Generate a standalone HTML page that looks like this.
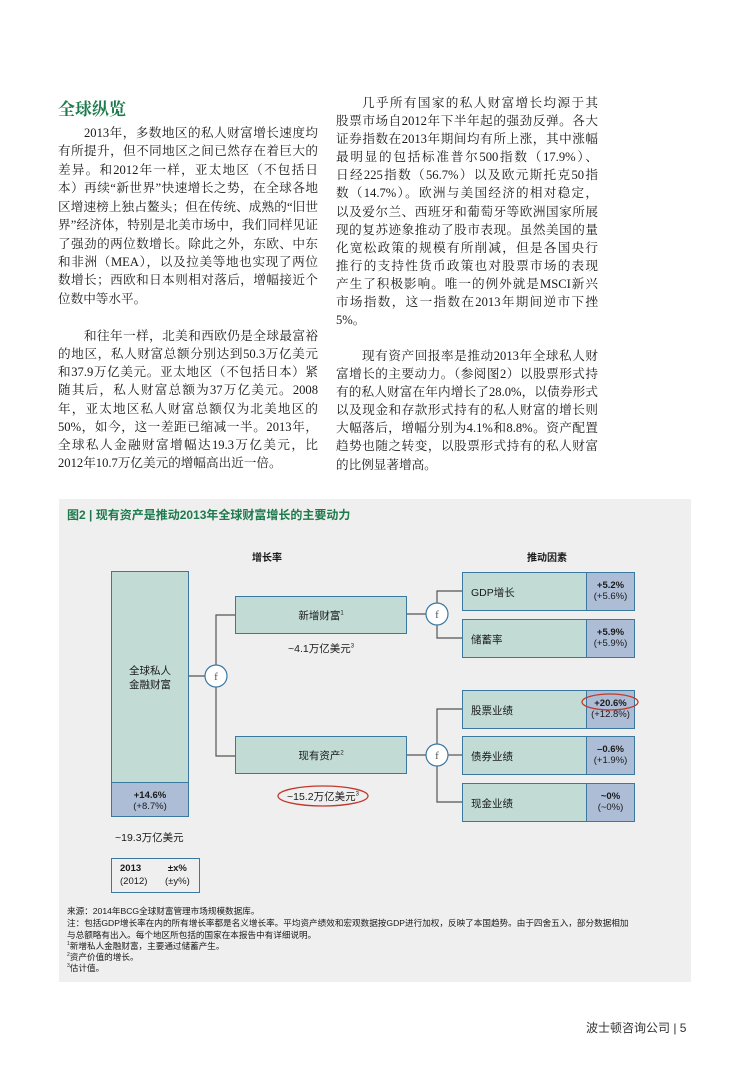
<!DOCTYPE html>
<html><head><meta charset="utf-8"><style>
body{margin:0;width:748px;height:1077px;background:#fff;position:relative;overflow:hidden;font-family:"Liberation Serif","Noto Serif CJK SC",serif;color:#1a1a1a}
.l{position:absolute;font-size:12.6px;height:18px;line-height:18px;white-space:nowrap;text-align:justify;text-align-last:justify}
.ll{text-align-last:left}
.s{font-family:"Liberation Sans","Noto Sans CJK SC",sans-serif}
.a{position:absolute}
.box{position:absolute;background:#c2dcd5;border:1.3px solid #3a78a0;box-sizing:border-box}
.val{position:absolute;background:#adbdd6;border:1.3px solid #3a78a0;box-sizing:border-box;text-align:center;font-family:"Liberation Sans",sans-serif;font-size:9.5px;line-height:11px;padding-top:7px}
.lab{position:absolute;font-family:"Liberation Sans","Noto Sans CJK SC",sans-serif;font-size:10.5px}
.fn{position:absolute;left:67px;font-family:"Liberation Sans","Noto Sans CJK SC",sans-serif;font-size:8.6px;white-space:nowrap}
</style></head><body>
<div class="a" style="left:58px;top:95px;font-size:17px;font-weight:bold;color:#1e7a4c;font-family:'Liberation Serif','Noto Serif CJK SC',serif">全球纵览</div>

<div class="l" style="left:58px;top:124px;width:260px;text-indent:26px">2013年，多数地区的私人财富增长速度均</div>
<div class="l" style="left:58px;top:142px;width:260px">有所提升，但不同地区之间已然存在着巨大的</div>
<div class="l" style="left:58px;top:161px;width:260px">差异。和2012年一样，亚太地区（不包括日</div>
<div class="l" style="left:58px;top:179px;width:260px">本）再续“新世界”快速增长之势，在全球各地</div>
<div class="l" style="left:58px;top:198px;width:260px">区增速榜上独占鳌头；但在传统、成熟的“旧世</div>
<div class="l" style="left:58px;top:216px;width:260px">界”经济体，特别是北美市场中，我们同样见证</div>
<div class="l" style="left:58px;top:235px;width:260px">了强劲的两位数增长。除此之外，东欧、中东</div>
<div class="l" style="left:58px;top:253px;width:260px">和非洲（MEA），以及拉美等地也实现了两位</div>
<div class="l" style="left:58px;top:271px;width:260px">数增长；西欧和日本则相对落后，增幅接近个</div>
<div class="l ll" style="left:58px;top:290px;width:260px">位数中等水平。</div>

<div class="l" style="left:58px;top:327px;width:260px;text-indent:26px">和往年一样，北美和西欧仍是全球最富裕</div>
<div class="l" style="left:58px;top:345px;width:260px">的地区，私人财富总额分别达到50.3万亿美元</div>
<div class="l" style="left:58px;top:363px;width:260px">和37.9万亿美元。亚太地区（不包括日本）紧</div>
<div class="l" style="left:58px;top:381px;width:260px">随其后，私人财富总额为37万亿美元。2008</div>
<div class="l" style="left:58px;top:400px;width:260px">年，亚太地区私人财富总额仅为北美地区的</div>
<div class="l" style="left:58px;top:418px;width:260px">50%，如今，这一差距已缩减一半。2013年，</div>
<div class="l" style="left:58px;top:436px;width:260px">全球私人金融财富增幅达19.3万亿美元，比</div>
<div class="l ll" style="left:58px;top:454px;width:260px">2012年10.7万亿美元的增幅高出近一倍。</div>

<div class="l" style="left:336px;top:94px;width:262px;text-indent:26px">几乎所有国家的私人财富增长均源于其</div>
<div class="l" style="left:336px;top:112px;width:262px">股票市场自2012年下半年起的强劲反弹。各大</div>
<div class="l" style="left:336px;top:130px;width:262px">证券指数在2013年期间均有所上涨，其中涨幅</div>
<div class="l" style="left:336px;top:148px;width:262px">最明显的包括标准普尔500指数（17.9%）、</div>
<div class="l" style="left:336px;top:166px;width:262px">日经225指数（56.7%）以及欧元斯托克50指</div>
<div class="l" style="left:336px;top:184px;width:262px">数（14.7%）。欧洲与美国经济的相对稳定，</div>
<div class="l" style="left:336px;top:203px;width:262px">以及爱尔兰、西班牙和葡萄牙等欧洲国家所展</div>
<div class="l" style="left:336px;top:221px;width:262px">现的复苏迹象推动了股市表现。虽然美国的量</div>
<div class="l" style="left:336px;top:239px;width:262px">化宽松政策的规模有所削减，但是各国央行</div>
<div class="l" style="left:336px;top:257px;width:262px">推行的支持性货币政策也对股票市场的表现</div>
<div class="l" style="left:336px;top:275px;width:262px">产生了积极影响。唯一的例外就是MSCI新兴</div>
<div class="l" style="left:336px;top:293px;width:262px">市场指数，这一指数在2013年期间逆市下挫</div>
<div class="l ll" style="left:336px;top:311px;width:262px">5%。</div>

<div class="l" style="left:336px;top:347px;width:262px;text-indent:26px">现有资产回报率是推动2013年全球私人财</div>
<div class="l" style="left:336px;top:365px;width:262px">富增长的主要动力。（参阅图2）以股票形式持</div>
<div class="l" style="left:336px;top:383px;width:262px">有的私人财富在年内增长了28.0%，以债券形式</div>
<div class="l" style="left:336px;top:401px;width:262px">以及现金和存款形式持有的私人财富的增长则</div>
<div class="l" style="left:336px;top:419px;width:262px">大幅落后，增幅分别为4.1%和8.8%。资产配置</div>
<div class="l" style="left:336px;top:437px;width:262px">趋势也随之转变，以股票形式持有的私人财富</div>
<div class="l ll" style="left:336px;top:456px;width:262px">的比例显著增高。</div>

<!-- figure -->
<div class="a" style="left:59px;top:499px;width:632px;height:483px;background:#efefef"></div>
<div class="a s" style="left:67px;top:506px;font-size:12px;font-weight:bold;color:#1e7a4c">图2 | 现有资产是推动2013年全球财富增长的主要动力</div>
<div class="a s" style="left:252px;top:549px;font-size:10px;font-weight:bold">增长率</div>
<div class="a s" style="left:527px;top:549px;font-size:10px;font-weight:bold">推动因素</div>

<svg class="a" style="left:0;top:0" width="748" height="1077">
<g stroke="#555" stroke-width="1.2" fill="none">
<line x1="188" y1="676" x2="205" y2="676"/>
<polyline points="235,615 216,615 216,665"/>
<polyline points="235,756 216,756 216,687"/>
<line x1="406" y1="614" x2="426" y2="614"/>
<polyline points="462,591 437,591 437,603"/>
<polyline points="462,638 437,638 437,625"/>
<line x1="406" y1="755" x2="426" y2="755"/>
<polyline points="462,709 437,709 437,744"/>
<line x1="448" y1="755" x2="462" y2="755"/>
<polyline points="462,802 437,802 437,766"/>
</g>
<g stroke="#3a78a0" stroke-width="1.2" fill="#fff">
<circle cx="216" cy="676" r="11"/><circle cx="437" cy="614" r="11"/><circle cx="437" cy="755" r="11"/>
</g>
<g font-family="Liberation Serif,serif" font-size="11" fill="#555" text-anchor="middle">
<text x="216" y="680">f</text><text x="437" y="618">f</text><text x="437" y="759">f</text>
</g>
</svg>

<div class="box" style="left:111px;top:571px;width:78px;height:212px"></div>
<div class="lab" style="left:111px;top:664px;width:78px;text-align:center;line-height:14px">全球私人<br>金融财富</div>
<div class="val" style="left:111px;top:782px;width:78px;height:35px;font-size:9.5px"><b>+14.6%</b><br>(+8.7%)</div>
<div class="lab" style="left:115px;top:830px">~19.3万亿美元</div>
<div class="a" style="left:111px;top:858px;width:89px;height:35px;border:1.3px solid #3a78a0;box-sizing:border-box"></div>
<div class="lab" style="left:120px;top:862px;font-size:9.5px;line-height:13px"><b>2013</b><br>(2012)</div>
<div class="lab" style="left:165px;top:862px;font-size:9.5px;line-height:13px;text-align:center"><b>±x%</b><br>(±y%)</div>

<div class="box" style="left:235px;top:596px;width:172px;height:38px"></div>
<div class="lab" style="left:235px;top:608px;width:172px;text-align:center">新增财富<sup style="font-size:6px">1</sup></div>
<div class="lab" style="left:288px;top:641px">~4.1万亿美元<sup style="font-size:6px">3</sup></div>
<div class="box" style="left:235px;top:736px;width:172px;height:38px"></div>
<div class="lab" style="left:235px;top:748px;width:172px;text-align:center">现有资产<sup style="font-size:6px">2</sup></div>
<div class="lab" style="left:287px;top:789px">~15.2万亿美元<sup style="font-size:6px">3</sup></div>

<div class="box" style="left:462px;top:572px;width:125px;height:39px"></div><div class="lab" style="left:471px;top:585px">GDP增长</div>
<div class="val" style="left:586px;top:572px;width:49px;height:39px"><b>+5.2%</b><br>(+5.6%)</div>
<div class="box" style="left:462px;top:619px;width:125px;height:39px"></div><div class="lab" style="left:471px;top:632px">储蓄率</div>
<div class="val" style="left:586px;top:619px;width:49px;height:39px"><b>+5.9%</b><br>(+5.9%)</div>
<div class="box" style="left:462px;top:690px;width:125px;height:39px"></div><div class="lab" style="left:471px;top:703px">股票业绩</div>
<div class="val" style="left:586px;top:690px;width:49px;height:39px"><b>+20.6%</b><br>(+12.8%)</div>
<div class="box" style="left:462px;top:736px;width:125px;height:39px"></div><div class="lab" style="left:471px;top:749px">债券业绩</div>
<div class="val" style="left:586px;top:736px;width:49px;height:39px"><b>–0.6%</b><br>(+1.9%)</div>
<div class="box" style="left:462px;top:783px;width:125px;height:39px"></div><div class="lab" style="left:471px;top:796px">现金业绩</div>
<div class="val" style="left:586px;top:783px;width:49px;height:39px"><b>~0%</b><br>(~0%)</div>

<svg class="a" style="left:0;top:0" width="748" height="1077">
<ellipse cx="323" cy="796" rx="45" ry="10" fill="none" stroke="#c0392b" stroke-width="1.3"/>
<ellipse cx="610" cy="702" rx="28" ry="8" fill="none" stroke="#c0392b" stroke-width="1.3"/>
</svg>

<div class="fn" style="top:905px">来源：2014年BCG全球财富管理市场规模数据库。</div>
<div class="fn" style="top:917px">注：包括GDP增长率在内的所有增长率都是名义增长率。平均资产绩效和宏观数据按GDP进行加权，反映了本国趋势。由于四舍五入，部分数据相加</div>
<div class="fn" style="top:929px">与总额略有出入。每个地区所包括的国家在本报告中有详细说明。</div>
<div class="fn" style="top:940px"><sup style="font-size:5px">1</sup>新增私人金融财富，主要通过储蓄产生。</div>
<div class="fn" style="top:951px"><sup style="font-size:5px">2</sup>资产价值的增长。</div>
<div class="fn" style="top:962px"><sup style="font-size:5px">3</sup>估计值。</div>

<div class="a s" style="left:586px;top:1019px;font-size:12px;color:#333">波士顿咨询公司 | 5</div>
</body></html>
